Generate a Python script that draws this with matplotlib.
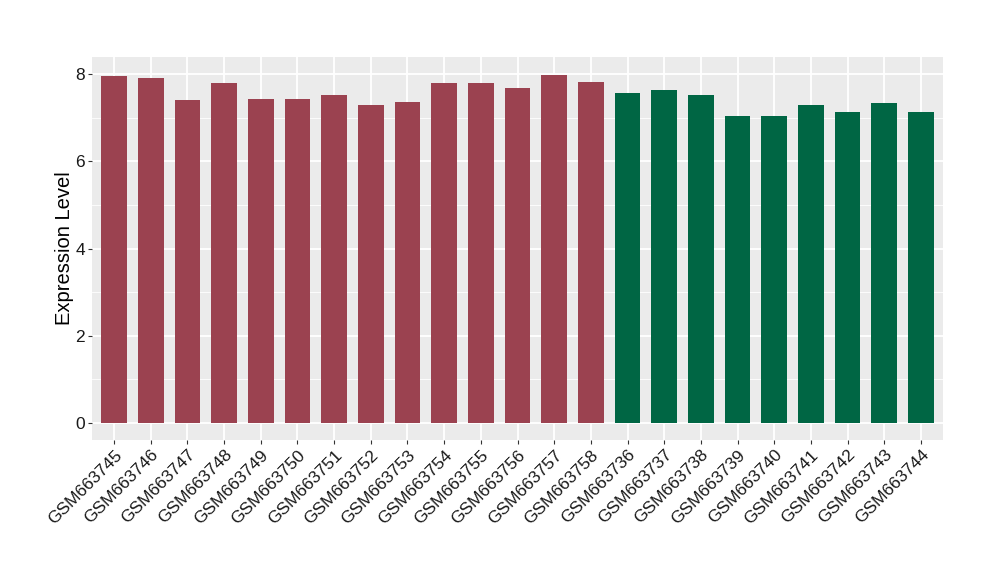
import numpy as np
import matplotlib.pyplot as plt

plt.rcParams['font.family'] = ['Liberation Sans', 'DejaVu Sans']

samples = ['GSM663745', 'GSM663746', 'GSM663747', 'GSM663748', 'GSM663749',
           'GSM663750', 'GSM663751', 'GSM663752', 'GSM663753', 'GSM663754',
           'GSM663755', 'GSM663756', 'GSM663757', 'GSM663758', 'GSM663736',
           'GSM663737', 'GSM663738', 'GSM663739', 'GSM663740', 'GSM663741',
           'GSM663742', 'GSM663743', 'GSM663744']
expression = [7.97, 7.92, 7.40, 7.81, 7.44, 7.44, 7.53, 7.30, 7.37, 7.79,
              7.81, 7.69, 7.99, 7.83, 7.56, 7.65, 7.53, 7.05, 7.05, 7.30,
              7.14, 7.33, 7.14]
groups = ['a'] * 14 + ['b'] * 9
group_colors = {'a': '#9B4250', 'b': '#006644'}

fig = plt.figure(figsize=(10, 5.8), dpi=100)
ax = fig.add_axes([0.092, 0.241, 0.851, 0.661])
ax.set_facecolor('#EBEBEB')

x = np.arange(1, len(samples) + 1)
ax.bar(x, expression, width=0.7, color=[group_colors[g] for g in groups],
       zorder=3)

ax.set_xlim(0.4, len(samples) + 0.6)
ax.set_ylim(-0.4, 8.4)
ax.set_xticks(x)
ax.set_xticklabels(samples, rotation=45, ha='right', rotation_mode='anchor',
                   fontsize=12.5, color='#1A1A1A')
ax.set_yticks([0, 2, 4, 6, 8])
ax.set_yticks([1, 3, 5, 7], minor=True)
ax.tick_params(axis='y', labelsize=12.5, labelcolor='#1A1A1A')
ax.tick_params(which='major', length=3, color='#333333', width=0.8, pad=2)
ax.tick_params(axis='y', which='minor', length=0)

ax.grid(True, which='major', color='white', linewidth=1.3, zorder=0)
ax.grid(True, which='minor', axis='y', color='white', linewidth=0.6, zorder=0)
ax.set_axisbelow(True)
for s in ax.spines.values():
    s.set_visible(False)

ax.set_ylabel('Expression Level', fontsize=14.5, labelpad=1)

fig.savefig('out.png', dpi=100)
